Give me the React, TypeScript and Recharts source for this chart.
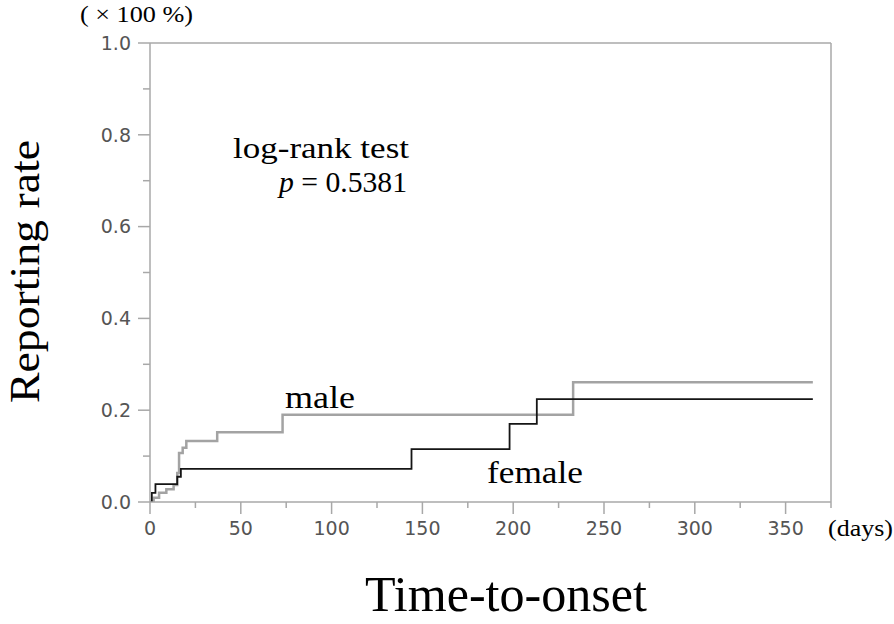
import { LineChart, Line, XAxis, YAxis, ReferenceLine } from "recharts";

const AXIS = "#a8a8a8";
const TICK_TEXT = "#555";
const SERIF = "'Liberation Serif', 'Times New Roman', serif";

// step points: [day, rate]
const femaleDays = [0, 1, 3, 15, 17, 144, 198, 213, 365];
const femaleRate = [0, 0.02, 0.039, 0.055, 0.072, 0.115, 0.17, 0.224, 0.224];

const maleDays = [0, 2, 5, 9, 13, 15, 16, 18, 20, 37, 73, 233, 365];
const maleRate = [0, 0.009, 0.02, 0.028, 0.037, 0.063, 0.107, 0.118, 0.133, 0.152, 0.19, 0.261, 0.261];

const xTicks = [0, 25, 50, 75, 100, 125, 150, 175, 200, 225, 250, 275, 300, 325, 350, 375];
const xMajor = [0, 50, 100, 150, 200, 250, 300, 350];
const yTicks = [0, 0.1, 0.2, 0.3, 0.4, 0.5, 0.6, 0.7, 0.8, 0.9, 1.0];
const yMajor = [0, 0.2, 0.4, 0.6, 0.8, 1.0];

const female = femaleDays.map((d, i) => ({ day: d, rate: femaleRate[i] }));
const male = maleDays.map((d, i) => ({ day: d, rate: maleRate[i] }));

function YTick(props: any) {
  const { x = 0, y = 0, payload } = props;
  const v = payload?.value;
  const major = yMajor.some((m) => Math.abs(m - v) < 1e-6);
  const len = major ? 12 : 7;
  return (
    <g>
      <line x1={x - len} y1={y} x2={x} y2={y} stroke={AXIS} strokeWidth={1.5} />
      {major && (
        <text
          x={x - 19}
          y={y}
          dy="0.36em"
          textAnchor="end"
          fill={TICK_TEXT}
          fontSize={19}
          fontFamily="'DejaVu Sans', sans-serif"
        >
          {Number(v).toFixed(1)}
        </text>
      )}
    </g>
  );
}

function XTick(props: any) {
  const { x = 0, y = 0, payload } = props;
  const v = payload?.value;
  const major = xMajor.includes(v);
  const len = major ? 12 : 6;
  return (
    <g>
      <line x1={x} y1={y} x2={x} y2={y + len} stroke={AXIS} strokeWidth={1.5} />
      {major && (
        <text
          x={x}
          y={y + 33}
          textAnchor="middle"
          fill={TICK_TEXT}
          fontSize={19}
          fontFamily="'DejaVu Sans', sans-serif"
        >
          {v}
        </text>
      )}
    </g>
  );
}

export default function App() {
  return (
    <div style={{ position: "absolute", left: 0, top: 0, width: 894, height: 624, background: "#fff" }}>
      <LineChart
        width={894}
        height={624}
        margin={{ top: 43, right: 63, bottom: 82, left: 90 }}
      >
        <XAxis
          dataKey="day"
          type="number"
          domain={[0, 375]}
          ticks={xTicks}
          interval={0}
          height={40}
          tickSize={0}
          tickMargin={0}
          tickLine={false}
          tick={<XTick />}
          stroke={AXIS}
          strokeWidth={1.5}
          allowDataOverflow
        />
        <YAxis
          dataKey="rate"
          type="number"
          domain={[0, 1]}
          ticks={yTicks}
          interval={0}
          width={60}
          tickSize={0}
          tickMargin={0}
          tickLine={false}
          tick={<YTick />}
          stroke={AXIS}
          strokeWidth={1.5}
          allowDataOverflow
        />
        <ReferenceLine y={1} stroke={AXIS} strokeWidth={1.5} />
        <ReferenceLine x={375} stroke={AXIS} strokeWidth={1.5} />
        <Line
          data={male}
          dataKey="rate"
          type="stepAfter"
          stroke="#a3a3a3"
          strokeWidth={2.5}
          dot={false}
          isAnimationActive={false}
        />
        <Line
          data={female}
          dataKey="rate"
          type="stepAfter"
          stroke="#151515"
          strokeWidth={1.8}
          dot={false}
          isAnimationActive={false}
        />
      </LineChart>
      <svg
        width={894}
        height={624}
        style={{ position: "absolute", left: 0, top: 0, pointerEvents: "none" }}
        fontFamily={SERIF}
        fill="#000"
      >
        <text x={80} y={22} fontSize={24} textLength={113} lengthAdjust="spacingAndGlyphs">
          ( × 100 %)
        </text>
        <text x={233} y={158} fontSize={30} textLength={176} lengthAdjust="spacingAndGlyphs">
          log-rank test
        </text>
        <text x={279} y={192} fontSize={30} textLength={128} lengthAdjust="spacingAndGlyphs">
          <tspan fontStyle="italic">p</tspan> = 0.5381
        </text>
        <text x={285} y={408} fontSize={32} textLength={70} lengthAdjust="spacingAndGlyphs">
          male
        </text>
        <text x={487} y={483} fontSize={32} textLength={96} lengthAdjust="spacingAndGlyphs">
          female
        </text>
        <text x={828} y={536} fontSize={24} textLength={65} lengthAdjust="spacingAndGlyphs">
          (days)
        </text>
        <text x={365} y={611} fontSize={50} textLength={282} lengthAdjust="spacingAndGlyphs">
          Time-to-onset
        </text>
        <text
          transform="translate(39, 403) rotate(-90)"
          x={0}
          y={0}
          fontSize={42}
          textLength={263}
          lengthAdjust="spacingAndGlyphs"
        >
          Reporting rate
        </text>
      </svg>
    </div>
  );
}
